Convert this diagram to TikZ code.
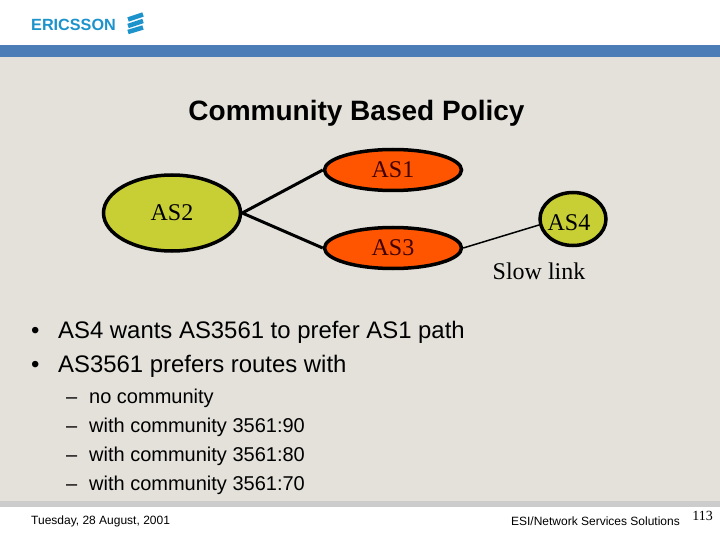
\documentclass[tikz,border=0pt]{standalone}
\usepackage{fontspec}
\setmainfont{Liberation Serif}
\newfontfamily\arialfont{Liberation Sans}
\usetikzlibrary{shapes.geometric, positioning}
\definecolor{slidebg}{HTML}{E3E1DA}
\definecolor{bandblue}{HTML}{4C7DB6}
\definecolor{stripgray}{HTML}{CCCCCC}
\definecolor{logoblue}{HTML}{1C93CB}
\definecolor{limefill}{HTML}{C8CF35}
\definecolor{orangefill}{HTML}{FF5500}
\tikzset{
	main/.style = {draw, ellipse, line width=3.5pt, inner sep=0pt, font=\fontsize{24}{24}\selectfont},
	lime/.style = {main, fill=limefill, minimum width=137pt, minimum height=76pt},
	orange/.style = {main, fill=orangefill, minimum width=137pt, minimum height=41pt, text=black!75!red},
	bulletline/.style = {inner sep=0pt, text height=18pt, text depth=5pt, font=\arialfont\fontsize{23.9}{24}\selectfont},
	subline/.style = {inner sep=0pt, text height=15pt, text depth=4pt, font=\arialfont\fontsize{20}{20}\selectfont},
	footline/.style = {inner sep=0pt, font=\arialfont\fontsize{12}{12}\selectfont},
	logobar/.style = {line width=4.5pt, logoblue},
}
\begin{document}
\begin{tikzpicture}[x=1pt, y=-1pt]
	\useasboundingbox (0,0) rectangle (720,540);
	% slide background
	\fill[white] (0,0) rectangle (720,540);
	\fill[slidebg] (0,57) rectangle (720,501);
	\fill[bandblue] (0,45) rectangle (720,57);
	\fill[stripgray] (0,501) rectangle (720,507);
	% logo
	\node[inner sep=0pt, anchor=west, text=logoblue, font=\arialfont\bfseries\fontsize{16.2}{16.2}\selectfont] (logo) at (31,25) {ERICSSON};
	\draw[logobar] (128,19.5) -- (143,14.5);
	\draw[logobar] (128,26) -- (143,21);
	\draw[logobar] (128,32) -- (143,27.5);
	% title
	\node[inner sep=0pt, font=\arialfont\bfseries\fontsize{28}{28}\selectfont] (title) at (356.5,113) {Community Based Policy};
	% graph
	\node[lime] (as2) at (172,213) {AS2};
	\node[orange] (as1) [right of=as2, node distance=221pt, yshift=43pt] {AS1};
	\node[orange] (as3) [below of=as1, node distance=78pt] {AS3};
	\node[main, fill=limefill, minimum width=66pt, minimum height=53pt] (as4) at (573,219) {};
	\node[inner sep=0pt, font=\fontsize{24}{24}\selectfont] (as4text) at (569,223) {AS4};
	\node[inner sep=0pt, font=\fontsize{24}{24}\selectfont] (slow) at (539,271) {Slow link};
	\draw[line width=3pt] (as2.east) -- (as1.west);
	\draw[line width=3pt] (as2.east) -- (as3.west);
	\draw[line width=1.5pt] (as3.east) -- (as4.190);
	% bullets
	\node[bulletline, anchor=west] (b1) at (31,332) {•};
	\node[bulletline, anchor=west] (t1) at (58,332) {AS4 wants AS3561 to prefer AS1 path};
	\node[bulletline] (b2) [below=34pt of b1.west, anchor=west] {•};
	\node[bulletline] (t2) [below=34pt of t1.west, anchor=west] {AS3561 prefers routes with};
	\node[subline, anchor=west] (d1) at (66,398) {–};
	\node[subline, anchor=west] (s1) at (89,398) {no community};
	\node[subline] (d2) [below=29pt of d1.west, anchor=west] {–};
	\node[subline] (s2) [below=29pt of s1.west, anchor=west] {with community 3561:90};
	\node[subline] (d3) [below=29pt of d2.west, anchor=west] {–};
	\node[subline] (s3) [below=29pt of s2.west, anchor=west] {with community 3561:80};
	\node[subline] (d4) [below=29pt of d3.west, anchor=west] {–};
	\node[subline] (s4) [below=29pt of s3.west, anchor=west] {with community 3561:70};
	% footer
	\node[footline, anchor=west] (date) at (31,521) {Tuesday, 28 August, 2001};
	\node[footline, anchor=east] (dept) at (680,521) {ESI/Network Services Solutions};
	\node[inner sep=0pt, font=\fontsize{14}{14}\selectfont] (page) at (702.5,516) {113};
\end{tikzpicture}
\end{document}
